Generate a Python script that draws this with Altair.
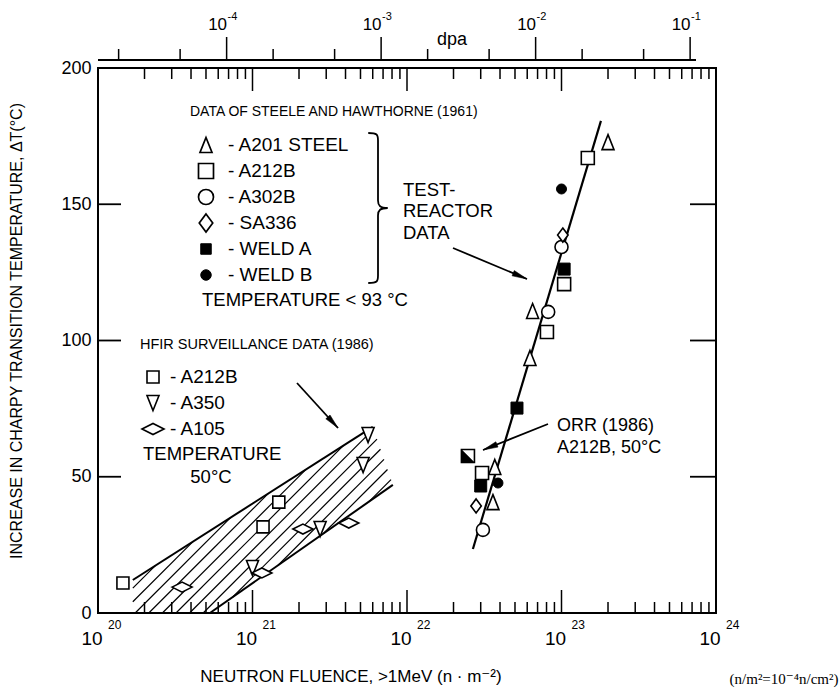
import math
import altair as alt
import numpy as np
import pandas as pd

FONT = "Liberation Sans, Arial, DejaVu Sans"
SERIF = "Liberation Serif, Times New Roman, DejaVu Serif"

# ---------------- data ----------------
# Test-reactor data (Steele & Hawthorne 1961) plus the ORR (1986) A212B point
tr_kind = ["A201", "A201", "A201", "A201", "A201",
           "A212B", "A212B", "A212B", "A212B",
           "A302B", "A302B", "A302B",
           "SA336", "SA336",
           "WELD A", "WELD A", "WELD A",
           "WELD B", "WELD B",
           "ORR A212B"]
tr_fluence = [2.0e23, 6.5e22, 6.25e22, 3.7e22, 3.6e22,
              1.48e23, 1.04e23, 8.05e22, 3.06e22,
              1.0e23, 8.2e22, 3.1e22,
              1.02e23, 2.8e22,
              1.04e23, 5.15e22, 3.0e22,
              1.0e23, 3.88e22,
              2.48e22]
tr_dT = [172.8, 110.8, 93.6, 53.6, 40.7,
         167.0, 120.7, 103.1, 51.4,
         134.3, 110.5, 30.5,
         138.7, 39.3,
         126.2, 75.2, 46.6,
         155.6, 47.7,
         57.6]

# HFIR surveillance data (1986)
hfir_kind = ["A212B", "A212B", "A212B",
             "A350", "A350", "A350", "A350",
             "A105", "A105", "A105", "A105"]
hfir_fluence = [1.45e20, 1.17e21, 1.48e21,
                1.0e21, 2.74e21, 5.2e21, 5.6e21,
                3.5e20, 1.15e21, 2.12e21, 4.2e21]
hfir_dT = [11.0, 31.6, 40.7,
           16.5, 30.8, 54.3, 65.3,
           9.5, 14.7, 30.8, 33.0]

# trend line through the test-reactor data
fit_fluence = [2.67e22, 1.8e23]
fit_dT = [23.5, 180.6]

# HFIR scatter band
band_upper_fluence = [1.68e20, 6.0e21]
band_upper_dT = [12.1, 68.3]
band_lower_fluence = [5.3e20, 8.1e21]
band_lower_dT = [0.0, 47.0]

# axis ticks
y_ticks = [50, 100, 150]
fluence_exponents = [20, 21, 22, 23, 24]
fluence_major = [1e21, 1e22, 1e23]
fluence_minor = [m * 10.0 ** e for e in range(20, 24) for m in range(2, 10)]
dpa_exponents = [-4, -3, -2, -1]
dpa_minor = [2e-5, 5e-5, 2e-4, 5e-4, 2e-3, 5e-3, 2e-2, 5e-2]
FLUENCE_PER_DPA = 6.8e24  # n/m^2 (>1 MeV) per dpa

steele_labels = ["A201 STEEL", "A212B", "A302B", "SA336", "WELD A", "WELD B"]
hfir_labels = ["A212B", "A350", "A105"]

# ---------------- geometry ----------------
W, H = 618, 545
LEFT, TOP = 98, 68

TRI_UP = "M0,-1L0.8,1L-0.8,1Z"
TRI_DOWN = "M0,1L0.8,-1L-0.8,-1Z"
TALL_DIAMOND = "M0,-1L0.75,0L0,1L-0.75,0Z"
WIDE_DIAMOND = "M-1,0L0,-0.5L1,0L0,0.5Z"
HALF_SQUARE = "M-1,-1L-1,1L1,1Z"
ARROW_HEAD = "M0,-1L0.38,1L-0.38,1Z"
BRACE = ("M-0.13,-1 C-0.01,-1 0,-0.98 0,-0.9 L0,-0.1 C0,-0.03 0.03,0 0.13,0 "
         "C0.03,0 0,0.03 0,0.1 L0,0.9 C0,0.98 -0.01,1 -0.13,1")

X_SCALE = alt.Scale(type="log", domain=[1e20, 1e24], nice=False)
Y_SCALE = alt.Scale(domain=[0, 200], nice=False)
Y_AXIS = alt.Axis(values=[0, 50, 100, 150, 200], ticks=False, domain=False,
                  grid=False, title=None, labelFont=FONT, labelFontSize=18,
                  labelPadding=7, labelColor="black", labelFlush=False)


def xq(f):
    return alt.X(f"{f}:Q", scale=X_SCALE, axis=None)


def yq(f):
    return alt.Y(f"{f}:Q", scale=Y_SCALE, axis=Y_AXIS)


one = pd.DataFrame({"a": [0]})
layers = []


def text(s, px, py, size=18, align="left", font=FONT, angle=None, baseline="middle"):
    kw = dict(text=s, font=font, fontSize=size, align=align, baseline=baseline, color="black")
    if angle is not None:
        kw["angle"] = angle
    layers.append(alt.Chart(one).mark_text(**kw).encode(
        x=alt.value(px - LEFT), y=alt.value(py - TOP)))


def symbol(shape, px, py, size, fill="white", sw=1.6, filled=True):
    kw = dict(shape=shape, size=size, stroke="black", strokeWidth=sw, opacity=1)
    if filled:
        kw.update(filled=True, fill=fill)
    else:
        kw.update(filled=False)
    layers.append(alt.Chart(one).mark_point(**kw).encode(
        x=alt.value(px - LEFT), y=alt.value(py - TOP)))


def arrow(p0, p1, head=15):
    x0, y0 = p0
    x1, y1 = p1
    layers.append(alt.Chart(one).mark_rule(color="black", strokeWidth=1.8).encode(
        x=alt.value(x0 - LEFT), y=alt.value(y0 - TOP),
        x2=alt.value(x1 - LEFT), y2=alt.value(y1 - TOP)))
    dx, dy = x1 - x0, y1 - y0
    n = math.hypot(dx, dy)
    ux, uy = dx / n, dy / n
    ang = math.degrees(math.atan2(dx, -dy)) % 360
    cx, cy = x1 - ux * head / 2, y1 - uy * head / 2
    layers.append(alt.Chart(one).mark_point(
        shape=ARROW_HEAD, size=head * head, filled=True, fill="black",
        stroke="black", strokeWidth=0.5, opacity=1, angle=ang).encode(
        x=alt.value(cx - LEFT), y=alt.value(cy - TOP)))


# ---------------- hatched HFIR band ----------------
band_poly = [
    (math.log10(band_upper_fluence[0]), 0.0),
    (math.log10(band_upper_fluence[0]), band_upper_dT[0]),
    (math.log10(band_upper_fluence[1]), band_upper_dT[1]),
    (math.log10(band_lower_fluence[1]), band_lower_dT[1]),
    (math.log10(band_lower_fluence[0]), band_lower_dT[0]),
]
k = (H / 200.0) / (W / 4.0)  # 45-degree hatching in screen space
cs = [u - k * y for u, y in band_poly]
step = 0.088
segs = []
for c in np.arange(min(cs) + step * 0.6, max(cs), step):
    pts = []
    for i in range(len(band_poly)):
        (u0, y0), (u1, y1) = band_poly[i], band_poly[(i + 1) % len(band_poly)]
        f0, f1 = u0 - k * y0 - c, u1 - k * y1 - c
        if f0 == f1 or f0 * f1 > 0:
            continue
        t = f0 / (f0 - f1)
        pts.append((u0 + t * (u1 - u0), y0 + t * (y1 - y0)))
    if len(pts) >= 2:
        pts.sort(key=lambda p: p[1])
        (ua, ya), (ub, yb) = pts[0], pts[-1]
        segs.append({"x": 10 ** ua, "y": ya, "x2": 10 ** ub, "y2": yb})
hatch = pd.DataFrame(segs)
layers.append(alt.Chart(hatch).mark_rule(color="black", strokeWidth=1.2).encode(
    x=xq("x"), y=yq("y"), x2="x2:Q", y2="y2:Q"))

for fl, dt in [(band_upper_fluence, band_upper_dT), (band_lower_fluence, band_lower_dT)]:
    layers.append(alt.Chart(pd.DataFrame({"fluence": fl, "dT": dt})).mark_line(
        color="black", strokeWidth=2).encode(x=xq("fluence"), y=yq("dT")))

# ---------------- trend line ----------------
layers.append(alt.Chart(pd.DataFrame({"fluence": fit_fluence, "dT": fit_dT})).mark_line(
    color="black", strokeWidth=2.2).encode(x=xq("fluence"), y=yq("dT")))

# ---------------- data points ----------------
tr = pd.DataFrame({"kind": tr_kind, "fluence": tr_fluence, "dT": tr_dT})
hf = pd.DataFrame({"kind": hfir_kind, "fluence": hfir_fluence, "dT": hfir_dT})


def points(df, kind, shape, size, fill="white", sw=1.6):
    return alt.Chart(df).transform_filter(alt.datum.kind == kind).mark_point(
        shape=shape, size=size, filled=True, fill=fill, stroke="black",
        strokeWidth=sw, opacity=1).encode(x=xq("fluence"), y=yq("dT"))


layers += [
    points(tr, "A201", TRI_UP, 225),
    points(tr, "A212B", "square", 169),
    points(tr, "A302B", "circle", 169),
    points(tr, "SA336", TALL_DIAMOND, 196),
    points(tr, "WELD A", "square", 144, fill="black", sw=1),
    points(tr, "WELD B", "circle", 100, fill="black", sw=1),
    points(tr, "ORR A212B", "square", 169),
    points(tr, "ORR A212B", HALF_SQUARE, 169, fill="black", sw=0.5),
    points(hf, "A212B", "square", 144),
    points(hf, "A350", TRI_DOWN, 225),
    points(hf, "A105", WIDE_DIAMOND, 400),
]

# ---------------- frame ticks ----------------
tick_major = pd.DataFrame({"v": fluence_major})
tick_minor = pd.DataFrame({"v": fluence_minor})
for df, L in [(tick_major, 23), (tick_minor, 11)]:
    for y0, y1 in [(H, H - L), (0, L)]:
        layers.append(alt.Chart(df).mark_rule(color="black", strokeWidth=1.5).encode(
            x=xq("v"), y=alt.value(y0), y2=alt.value(y1)))

yt = pd.DataFrame({"v": y_ticks})
layers.append(alt.Chart(yt).mark_rule(color="black", strokeWidth=1.8).encode(
    y=yq("v"), x=alt.value(0), x2=alt.value(23)))
layers.append(alt.Chart(yt).mark_rule(color="black", strokeWidth=1.8).encode(
    y=yq("v"), x=alt.value(W), x2=alt.value(W - 26)))

# bottom tick labels: 10 with superscript exponent
lab = pd.DataFrame({"v": [10.0 ** e for e in fluence_exponents],
                    "e": [str(e) for e in fluence_exponents]})
layers.append(alt.Chart(lab).mark_text(text="10", font=FONT, fontSize=19, align="center",
                                       baseline="middle", dx=-6).encode(
    x=xq("v"), y=alt.value(H + 26)))
layers.append(alt.Chart(lab).mark_text(font=FONT, fontSize=12, align="left",
                                       baseline="middle", dx=10).encode(
    x=xq("v"), y=alt.value(H + 12), text="e:N"))

# ---------------- dpa axis on top ----------------
DPA_Y = -8
layers.append(alt.Chart(one).mark_rule(color="black", strokeWidth=1.8).encode(
    x=alt.value(0), x2=alt.value(598), y=alt.value(DPA_Y)))
dmaj = pd.DataFrame({"dpa": [10.0 ** e for e in dpa_exponents],
                     "e": [str(e) for e in dpa_exponents]})
dmin = pd.DataFrame({"dpa": dpa_minor})
for df, L in [(dmaj, 23), (dmin, 11)]:
    layers.append(alt.Chart(df).transform_calculate(
        fl=f"datum.dpa * {FLUENCE_PER_DPA}").mark_rule(color="black", strokeWidth=1.5).encode(
        x=xq("fl"), y=alt.value(DPA_Y), y2=alt.value(DPA_Y - L)))
layers.append(alt.Chart(dmaj).transform_calculate(
    fl=f"datum.dpa * {FLUENCE_PER_DPA}").mark_text(
    text="10", font=FONT, fontSize=17, align="center", baseline="middle", dx=-9).encode(
    x=xq("fl"), y=alt.value(25 - TOP)))
layers.append(alt.Chart(dmaj).transform_calculate(
    fl=f"datum.dpa * {FLUENCE_PER_DPA}").mark_text(
    font=FONT, fontSize=11, align="left", baseline="middle", dx=1).encode(
    x=xq("fl"), y=alt.value(17 - TOP), text="e:N"))
text("dpa", 452, 40, size=18, align="center")

# ---------------- annotations ----------------
text("DATA OF STEELE AND HAWTHORNE (1961)", 190, 112, size=14)
steele_shapes = [(TRI_UP, 225, "white"), ("square", 225, "white"), ("circle", 225, "white"),
                 (TALL_DIAMOND, 324, "white"), ("square", 110, "black"), ("circle", 110, "black")]
for i, (lbl, (shp, sz, fc)) in enumerate(zip(steele_labels, steele_shapes)):
    ry = 145 + 26 * i
    symbol(shp, 206, ry, sz, fill=fc, sw=1.7 if fc == "white" else 1)
    text("- " + lbl, 228, ry, size=19)
text("TEMPERATURE  < 93 °C", 202, 300, size=18.5)
symbol(BRACE, 378, 208, 150 * 150, filled=False, sw=1.8)

text("TEST-", 403, 190, size=18.5)
text("REACTOR", 403, 211, size=18.5)
text("DATA", 403, 233, size=18.5)
arrow((453, 248), (527, 279))

text("HFIR SURVEILLANCE DATA (1986)", 140, 345, size=14.5)
hfir_shapes = [("square", 144), (TRI_DOWN, 225), (WIDE_DIAMOND, 484)]
for i, (lbl, (shp, sz)) in enumerate(zip(hfir_labels, hfir_shapes)):
    ry = 377 + 26 * i
    symbol(shp, 153, ry, sz)
    text("- " + lbl, 170, ry, size=19)
text("TEMPERATURE", 143, 454, size=18.5)
text("50°C", 211, 477, size=18.5, align="center")
arrow((297, 383), (338, 428))

text("ORR (1986)", 557, 426, size=18)
text("A212B, 50°C", 557, 448, size=18)
arrow((548, 424), (483, 450))

# axis titles
text("INCREASE IN CHARPY TRANSITION TEMPERATURE,  ΔT(°C)", 17, 331, size=16,
     align="center", angle=270)
text("NEUTRON FLUENCE,   >1MeV (n · m⁻²)", 351, 677, size=17, align="center")
text("(n/m²=10⁻⁴n/cm²)", 784, 679, size=15, align="center", font=SERIF)

chart = alt.layer(*layers).properties(
    width=W, height=H,
    autosize=alt.AutoSizeParams(type="none"),
    padding={"left": LEFT, "top": TOP, "right": 839 - LEFT - W, "bottom": 693 - TOP - H},
    background="white",
).configure_view(stroke="black", strokeWidth=2)

chart.save("out.html", embed_options={"renderer": "svg", "actions": False})
